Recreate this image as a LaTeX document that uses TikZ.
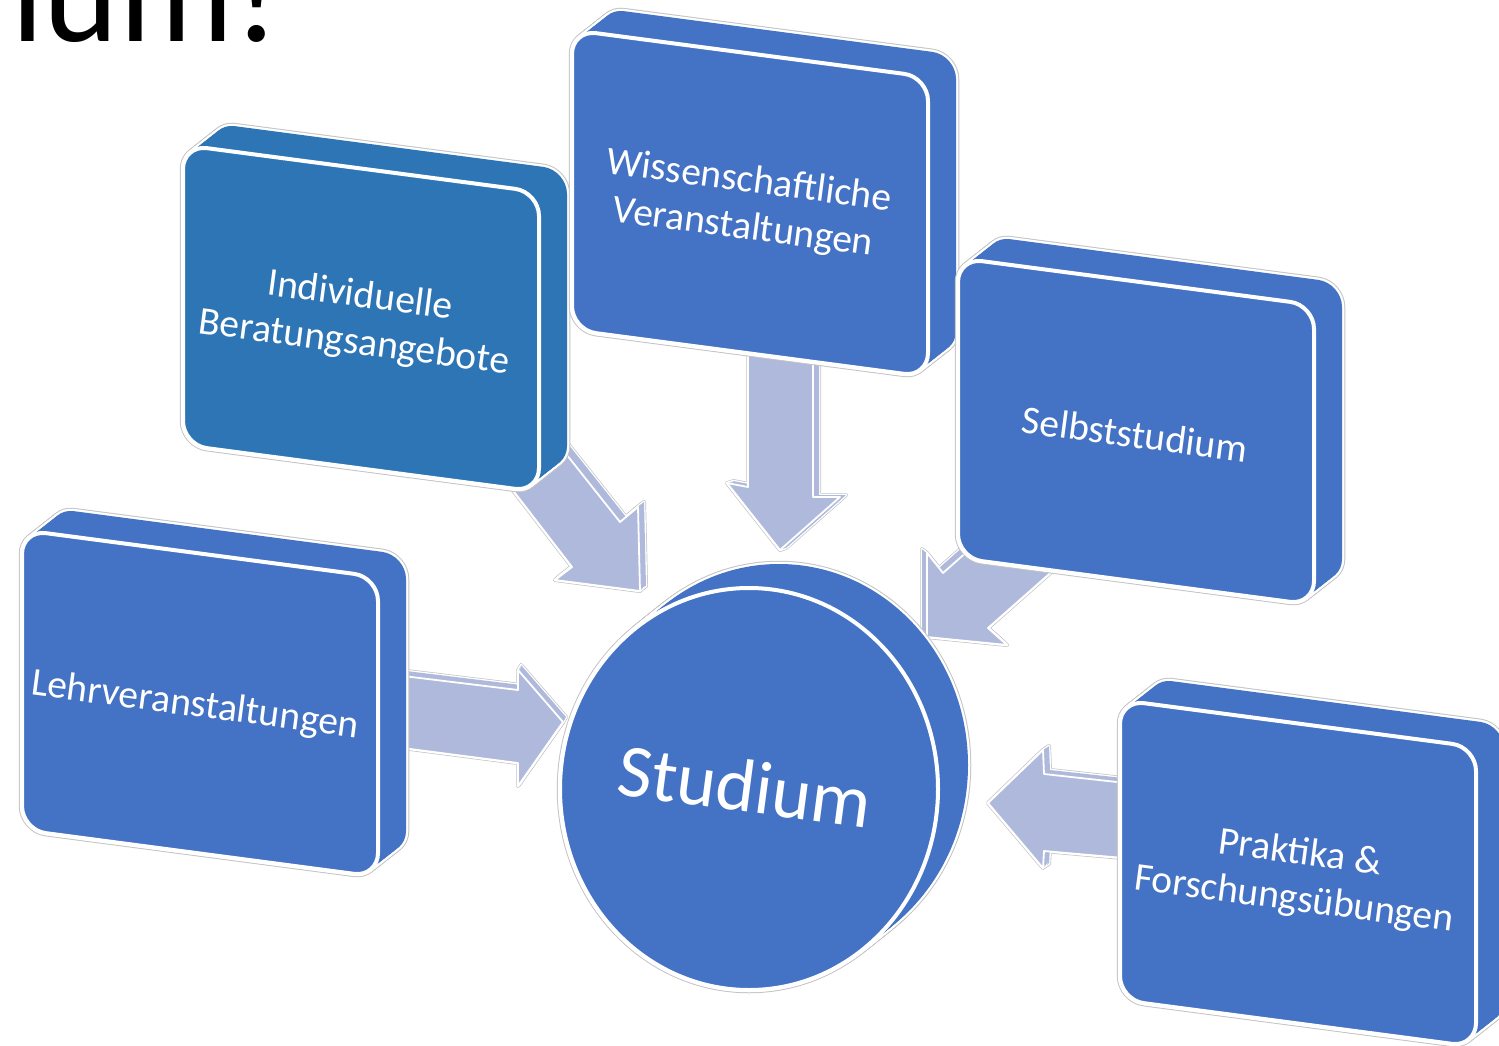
\documentclass[tikz,border=0pt]{standalone}
\usepackage{fontspec}
\setmainfont{Carlito}
\definecolor{boxblue}{HTML}{4472C4}
\definecolor{boxblueB}{HTML}{2E75B6}
\definecolor{arrowfill}{HTML}{AFB9DC}
\definecolor{edgegray}{HTML}{C4C4C4}
\tikzset{
  lbl/.style={text=white, font=\fontsize{39.5}{47}\selectfont, align=center, inner sep=0pt, rotate=-7.5},
  silo/.style={draw=edgegray, line width=6.5pt, line join=round},
  silw/.style={draw=white, line width=4.5pt, line join=round},
  arro/.style={draw=edgegray, line width=4pt, line join=round},
  arrw/.style={draw=white, line width=2.6pt, line join=round},
}
% solid 3D box: #1 x, #2 y of front top-left corner, #3 colour
\newcommand\solidbox[3]{%
  \foreach \i in {0,...,10}{\draw[silo, rounded corners=24pt, shift={(2.8*\i,-2.2*\i)}] (#1,#2) -- ++(356,47) -- ++(0,300) -- ++(-356,-47) -- cycle;}
  \foreach \i in {0,...,10}{\draw[silw, rounded corners=24pt, shift={(2.8*\i,-2.2*\i)}] (#1,#2) -- ++(356,47) -- ++(0,300) -- ++(-356,-47) -- cycle;}
  \foreach \i in {0,...,10}{\fill[#3, rounded corners=24pt, shift={(2.8*\i,-2.2*\i)}] (#1,#2) -- ++(356,47) -- ++(0,300) -- ++(-356,-47) -- cycle;}
  \draw[white, line width=4pt, fill=#3, rounded corners=24pt] (#1,#2) -- ++(356,47) -- ++(0,300) -- ++(-356,-47) -- cycle;
}
% 3D block arrow: #1 dx, #2 dy (extrusion), #3 outline path
\newcommand\blockarrow[3]{%
  \foreach \i in {0,...,4}{\draw[arro, shift={(#1*\i/4,#2*\i/4)}] #3;}
  \foreach \i in {0,...,4}{\draw[arrw, shift={(#1*\i/4,#2*\i/4)}] #3;}
  \foreach \i in {0,...,4}{\fill[arrowfill, shift={(#1*\i/4,#2*\i/4)}] #3;}
  \draw[white, line width=1.8pt, line join=round, fill=arrowfill] #3;
}
\begin{document}
\begin{tikzpicture}[x=1pt, y=-1pt]
\useasboundingbox (0,0) rectangle (1499,1046);
\clip (0,0) rectangle (1499,1046);
\fill[white] (0,0) rectangle (1499,1046);

% title fragment
\node[anchor=base west, inner sep=0pt, font=\fontsize{143}{143}\selectfont] (title) at (11,42) {ium!};

% block arrows (behind boxes and circle)
\blockarrow{3}{-5}{(395,675) -- (518,690) -- (518,670) -- (563,722) -- (518,786) -- (518,763) -- (395,747) -- cycle}
\blockarrow{6}{-5}{(505,480) -- (572,567) -- (555,580) -- (640,591) -- (638,507) -- (620,522) -- (555,440) -- cycle}
\blockarrow{6}{-2}{(748,340) -- (748,487) -- (727,483) -- (780,550) -- (840,497) -- (813,497) -- (813,340) -- cycle}
\blockarrow{-5}{-4}{(927,637) -- (927,553) -- (943,573) -- (1005,518) -- (1065,560) -- (988,628) -- (1007,645) -- cycle}
\blockarrow{6}{-4}{(988,803) -- (1043,750) -- (1044,774) -- (1135,784) -- (1135,859) -- (1044,851) -- (1043,868) -- cycle}

% boxes
\solidbox{183}{145}{boxblueB}
\solidbox{572}{30}{boxblue}
\solidbox{958}{258}{boxblue}
\solidbox{22}{530}{boxblue}
\solidbox{1120}{700}{boxblue}

% central disc
\foreach \i in {0,...,10}{\draw[silo, shift={(3*\i,-2.4*\i)}] (749,789) ellipse [x radius=189, y radius=201];}
\foreach \i in {0,...,10}{\draw[silw, shift={(3*\i,-2.4*\i)}] (749,789) ellipse [x radius=189, y radius=201];}
\foreach \i in {0,...,10}{\fill[boxblue, shift={(3*\i,-2.4*\i)}] (749,789) ellipse [x radius=189, y radius=201];}
\draw[white, line width=4pt, fill=boxblue] (749,789) ellipse [x radius=189, y radius=201];

% labels
\node[lbl] (indiv) at (357,320) {Individuelle\\Beratungsangebote};
\node[lbl] (wiss) at (746,205) {Wissenschaftliche\\Veranstaltungen};
\node[lbl] (selbst) at (1135,434) {Selbststudium};
\node[lbl] (lehr) at (195,706) {Lehrveranstaltungen};
\node[lbl] (prakt) at (1297,877) {Praktika \&\\Forschungsübungen};
\node[lbl, font=\fontsize{75}{80}\selectfont] (studium) at (745,786) {Studium};
\end{tikzpicture}
\end{document}
